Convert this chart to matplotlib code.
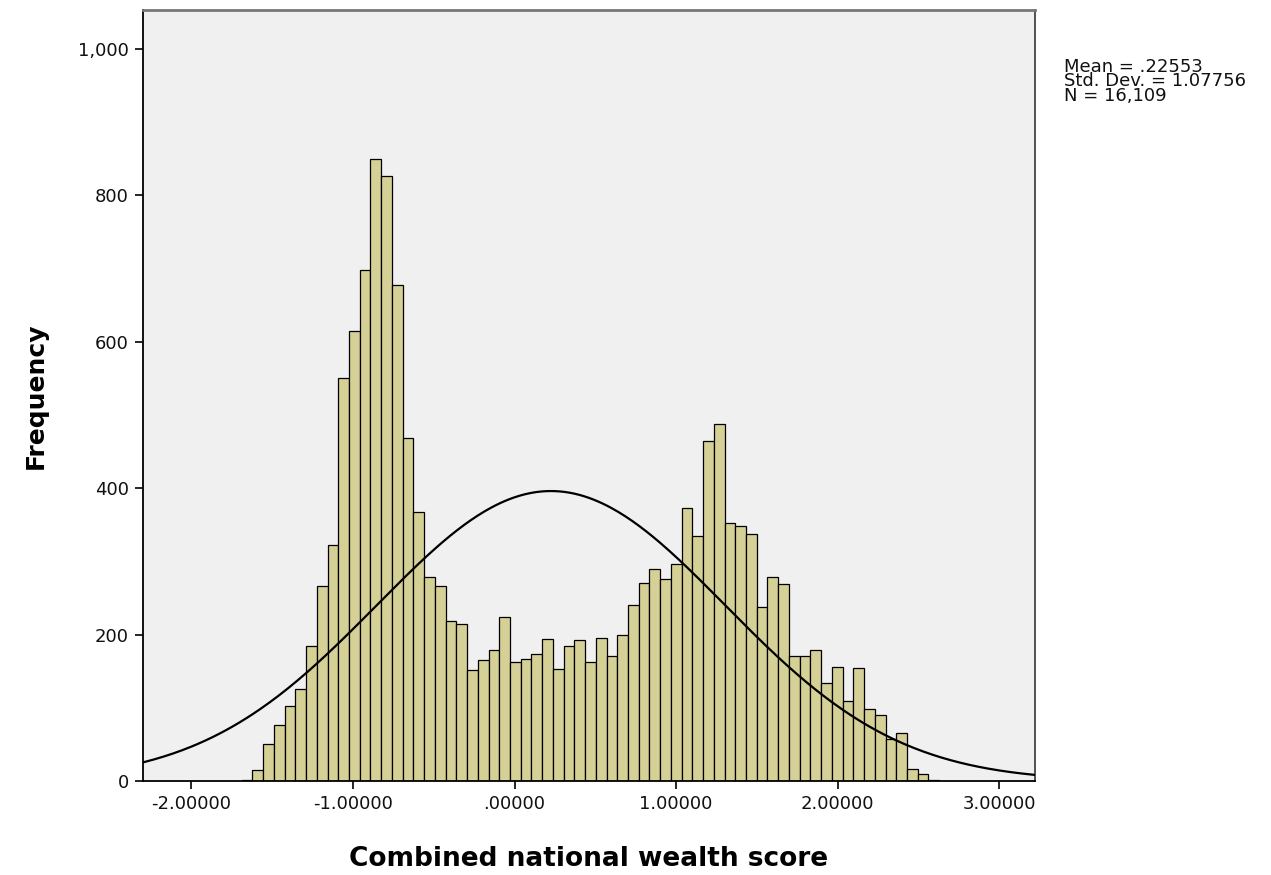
import numpy as np
import matplotlib
matplotlib.use("Agg")
import matplotlib.pyplot as plt

# Histogram of combined national wealth score (SPSS style output)
bin_start = -1.688
bin_width = 0.0664
counts = [2, 15, 51, 76, 103, 126, 184, 267, 323, 551,
          615, 698, 850, 826, 677, 468, 367, 279, 267, 219,
          214, 151, 165, 179, 224, 162, 167, 173, 194, 153,
          184, 192, 162, 195, 171, 200, 240, 270, 290, 276,
          297, 373, 335, 465, 487, 353, 348, 337, 237, 278,
          269, 171, 171, 179, 134, 156, 109, 154, 98, 90,
          58, 65, 16, 9, 1]

mean = 0.22553
std_dev = 1.07756
n_total = 16109

x_ticks = [-2, -1, 0, 1, 2, 3]
x_tick_labels = ["-2.00000", "-1.00000", ".00000", "1.00000", "2.00000", "3.00000"]
y_ticks = [0, 200, 400, 600, 800, 1000]
y_tick_labels = ["0", "200", "400", "600", "800", "1,000"]

stats_lines = ["Mean = .22553", "Std. Dev. = 1.07756", "N = 16,109"]

fig = plt.figure(figsize=(12.71, 8.75), dpi=100)
ax = fig.add_axes([143 / 1271, 94 / 875, 892 / 1271, 771 / 875])
ax.set_facecolor("#f0f0f0")

# Bars
lefts = bin_start + bin_width * np.arange(len(counts))
ax.bar(lefts, counts, width=bin_width, align="edge", color="#d5d096",
       edgecolor="black", linewidth=0.9, zorder=2)

# Normal curve scaled to the histogram
xs = np.linspace(-2.4, 3.3, 400)
ys = n_total * bin_width / (std_dev * np.sqrt(2 * np.pi)) * np.exp(-0.5 * ((xs - mean) / std_dev) ** 2)
ax.plot(xs, ys, color="black", linewidth=1.6, zorder=3)

ax.set_xlim(-2.299, 3.221)
ax.set_ylim(0, 1053)

ax.set_xticks(x_ticks)
ax.set_xticklabels(x_tick_labels)
ax.set_yticks(y_ticks)
ax.set_yticklabels(y_tick_labels)
ax.tick_params(axis="both", direction="out", length=6, width=1.2, color="black",
               labelsize=13, labelcolor="#111111", pad=4)

for side in ["left", "bottom"]:
    ax.spines[side].set_color("black")
    ax.spines[side].set_linewidth(1.3)
ax.spines["top"].set_color("#777777")
ax.spines["top"].set_linewidth(2)
ax.spines["right"].set_color("#444444")
ax.spines["right"].set_linewidth(1.3)

ax.set_xlabel("Combined national wealth score", fontsize=19, fontweight="bold", labelpad=24)
ax.set_ylabel("Frequency", fontsize=18, fontweight="bold", labelpad=22)

# Stats text on the right, one block
fig.text(1064 / 1271, 1 - 58 / 875, "\n".join(stats_lines), fontsize=13,
         ha="left", va="top", linespacing=0.74, color="#111111")

fig.savefig("out.png", dpi=100)
